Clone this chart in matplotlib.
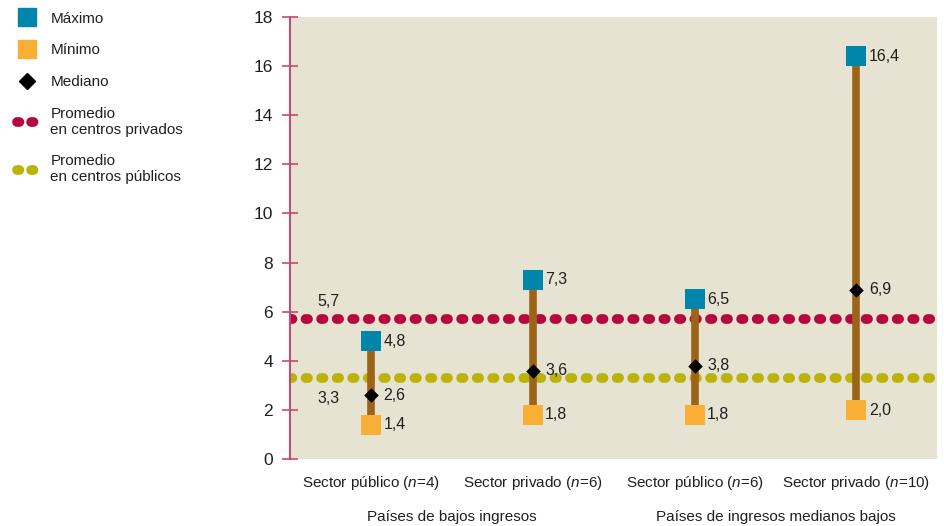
import matplotlib.pyplot as plt
from matplotlib.lines import Line2D

plt.rcParams['font.family'] = ['Liberation Sans', 'DejaVu Sans']
plt.rcParams['mathtext.fontset'] = 'custom'
plt.rcParams['mathtext.it'] = 'Liberation Sans:italic'
plt.rcParams['mathtext.rm'] = 'Liberation Sans'

categories = ['Sector público ($n$=4)', 'Sector privado ($n$=6)',
              'Sector público ($n$=6)', 'Sector privado ($n$=10)']
groups = ['Países de bajos ingresos', 'Países de ingresos medianos bajos']
maximo = [4.8, 7.3, 6.5, 16.4]
minimo = [1.4, 1.8, 1.8, 2.0]
mediano = [2.6, 3.6, 3.8, 6.9]
prom_privados = 5.7
prom_publicos = 3.3
yticks = [0, 2, 4, 6, 8, 10, 12, 14, 16, 18]

c_max = '#0086AA'
c_min = '#F9AE35'
c_med = '#000000'
c_priv = '#B5093D'
c_pub = '#BAB30A'
c_stem = '#9C6418'
c_axis = '#C94A6E'
c_text = '#231F20'

fig = plt.figure(figsize=(9.44, 5.26), dpi=100)
ax = fig.add_axes([0.307, 0.127, 0.686, 0.841])
ax.set_facecolor('#E6E3D3')

x = list(range(len(categories)))
dots = dict(lw=7, linestyle=(0, (0.25, 1.35)), dash_capstyle='round', zorder=2)
ax.axhline(prom_privados, color=c_priv, **dots)
ax.axhline(prom_publicos, color=c_pub, **dots)

ax.vlines(x, minimo, maximo, color=c_stem, lw=5.5, zorder=3)
ax.scatter(x, maximo, marker='s', s=200, color=c_max, zorder=4, linewidths=0)
ax.scatter(x, minimo, marker='s', s=200, color=c_min, zorder=4, linewidths=0)
ax.scatter(x, mediano, marker='D', s=55, color=c_med, zorder=5, linewidths=0)

for xi, vals in zip(x, zip(maximo, minimo, mediano)):
    for v in vals:
        ax.annotate(f'{v:.1f}'.replace('.', ','), (xi, v), xytext=(9, 0),
                    textcoords='offset points', va='center', ha='left',
                    fontsize=11.5, color=c_text)

ax.annotate(f'{prom_privados:.1f}'.replace('.', ','), (-0.5, prom_privados),
            xytext=(20, 13), textcoords='offset points', va='center',
            fontsize=11.5, color=c_text)
ax.annotate(f'{prom_publicos:.1f}'.replace('.', ','), (-0.5, prom_publicos),
            xytext=(20, -15), textcoords='offset points', va='center',
            fontsize=11.5, color=c_text)

ax.set_xlim(-0.5, len(categories) - 0.5)
ax.set_ylim(0, 18)
ax.set_yticks(yticks)
ax.set_xticks(x)
ax.set_xticklabels(categories, fontsize=11, color=c_text)
ax.tick_params(axis='x', length=0, pad=11)
ax.tick_params(axis='y', direction='inout', length=12, width=1.2,
               color=c_axis, labelsize=12.5, labelcolor=c_text, pad=6)
for s in ['top', 'right', 'bottom']:
    ax.spines[s].set_visible(False)
ax.spines['left'].set_color(c_axis)
ax.spines['left'].set_linewidth(1.5)
ax.spines['left'].set_bounds(0, 18)

for gi, g in enumerate(groups):
    ax.text(gi * 2 + 0.5, -0.13, g, transform=ax.get_xaxis_transform(),
            ha='center', va='center', fontsize=11, color=c_text)

handles = [
    Line2D([], [], marker='s', ms=13, color=c_max, lw=0),
    Line2D([], [], marker='s', ms=13, color=c_min, lw=0),
    Line2D([], [], marker='D', ms=8, color=c_med, lw=0),
    Line2D([], [], color=c_priv, lw=7, linestyle=(0, (0.25, 1.2)),
           dash_capstyle='round'),
    Line2D([], [], color=c_pub, lw=7, linestyle=(0, (0.25, 1.2)),
           dash_capstyle='round'),
]
labels = ['Máximo', 'Mínimo', 'Mediano', 'Promedio\nen centros privados',
          'Promedio\nen centros públicos']
leg = fig.legend(handles, labels, loc='upper left', bbox_to_anchor=(0.008, 0.995),
                 frameon=False, fontsize=11, handlelength=1.4,
                 handletextpad=0.8, labelspacing=1.15, borderaxespad=0.2)
for t in leg.get_texts():
    t.set_color(c_text)

fig.savefig('out.png', dpi=100)
